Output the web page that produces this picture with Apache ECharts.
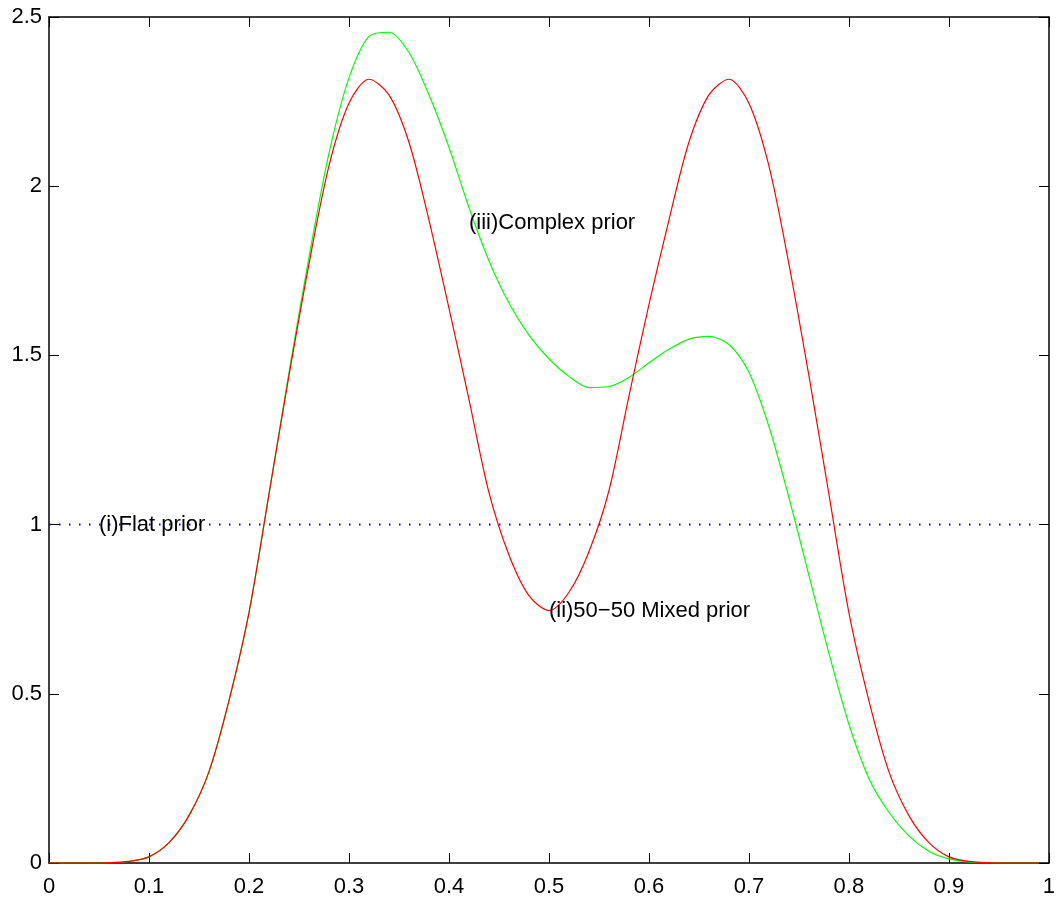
<!DOCTYPE html>
<html>
<head>
<meta charset="utf-8">
<title>Priors</title>
<script src="https://cdn.jsdelivr.net/npm/echarts@6/dist/echarts.min.js"></script>
<style>
    html, body { margin: 0; padding: 0; background: #fff; }
    #chart { width: 1058px; height: 898px; }
</style>
</head>
<body>
<div id="chart"></div>
<script>
// x positions of the curves (theta)
var xs = [0, 0.02, 0.04, 0.06, 0.08, 0.10, 0.12, 0.14, 0.16, 0.18,
    0.20, 0.22, 0.24, 0.26, 0.28, 0.30, 0.32, 0.34, 0.36, 0.38,
    0.40, 0.42, 0.44, 0.46, 0.48, 0.50, 0.52, 0.54, 0.56, 0.58,
    0.60, 0.62, 0.64, 0.66, 0.68, 0.70, 0.72, 0.74, 0.76, 0.78,
    0.80, 0.82, 0.84, 0.86, 0.88, 0.90, 0.92, 0.94, 0.96, 0.98, 0.99];

// (i) flat prior
var flatY = [1, 1, 1, 1, 1, 1, 1, 1, 1, 1,
    1, 1, 1, 1, 1, 1, 1, 1, 1, 1,
    1, 1, 1, 1, 1, 1, 1, 1, 1, 1,
    1, 1, 1, 1, 1, 1, 1, 1, 1, 1,
    1, 1, 1, 1, 1, 1, 1, 1, 1, 1, 1];

// (ii) 50-50 mixed prior
var mixedY = [0, 0, 0, 0.001, 0.005, 0.018, 0.06, 0.14, 0.27, 0.48,
    0.74, 1.09, 1.44, 1.77, 2.06, 2.245, 2.316, 2.27, 2.13, 1.90,
    1.64, 1.37, 1.095, 0.91, 0.79, 0.746, 0.80, 0.92, 1.10, 1.38,
    1.65, 1.90, 2.13, 2.27, 2.316, 2.245, 2.06, 1.77, 1.44, 1.09,
    0.74, 0.48, 0.27, 0.14, 0.06, 0.018, 0.005, 0.001, 0, 0, 0];

// (iii) complex prior
var complexY = [0, 0, 0, 0.001, 0.005, 0.018, 0.06, 0.14, 0.27, 0.48,
    0.74, 1.09, 1.45, 1.79, 2.097, 2.32, 2.443, 2.455, 2.395, 2.27,
    2.115, 1.937, 1.78, 1.655, 1.56, 1.49, 1.438, 1.405, 1.408, 1.435,
    1.478, 1.518, 1.548, 1.556, 1.532, 1.45, 1.29, 1.08, 0.85, 0.62,
    0.41, 0.25, 0.15, 0.08, 0.035, 0.012, 0.003, 0.001, 0, 0, 0];

// curve labels: [x, y, text]
var notes = [
    [0.05, 1.0, '(i)Flat prior'],
    [0.5, 0.745, '(ii)50\u221250 Mixed prior'],
    [0.42, 1.89, '(iii)Complex prior']
];

function pairs(x, y) {
    return x.map(function (v, i) { return [v, y[i]]; });
}

var font = '"Liberation Sans", Arial, Helvetica, sans-serif';

function tick() {
    return {show: true, inside: true, length: 10, lineStyle: {color: '#000', width: 1}};
}
function axLine() {
    return {show: true, onZero: false, lineStyle: {color: '#000', width: 1.5}};
}

var chart = echarts.init(document.getElementById('chart'), null, {renderer: 'canvas'});

var option = {
    animation: false,
    backgroundColor: '#fff',
    grid: {left: 49, right: 4, top: 17, bottom: 32},
    xAxis: [{
        type: 'value', min: 0, max: 1, interval: 0.1, position: 'bottom',
        axisLine: axLine(), axisTick: tick(), splitLine: {show: false},
        axisLabel: {color: '#000', fontSize: 22, fontFamily: font, margin: 13}
    }, {
        type: 'value', min: 0, max: 1, interval: 0.1, position: 'top',
        axisLine: axLine(), axisTick: tick(), splitLine: {show: false},
        axisLabel: {show: false}
    }],
    yAxis: [{
        type: 'value', min: 0, max: 2.5, interval: 0.5, position: 'left',
        axisLine: axLine(), axisTick: tick(), splitLine: {show: false},
        axisLabel: {color: '#000', fontSize: 22, fontFamily: font, margin: 7}
    }, {
        type: 'value', min: 0, max: 2.5, interval: 0.5, position: 'right',
        axisLine: axLine(), axisTick: tick(), splitLine: {show: false},
        axisLabel: {show: false}
    }],
    series: [
        {
            name: 'flat', type: 'line', data: pairs(xs, flatY), symbol: 'none',
            lineStyle: {color: '#0000ff', width: 2, type: [1.5, 8.5]}
        },
        {
            name: 'complex', type: 'line', data: pairs(xs, complexY), symbol: 'none',
            smooth: 0.3, lineStyle: {color: '#00ff00', width: 1.2}
        },
        {
            name: 'mixed', type: 'line', data: pairs(xs, mixedY), symbol: 'none',
            smooth: 0.3, lineStyle: {color: '#ff0000', width: 1.2}
        },
        {
            name: 'notes', type: 'scatter', symbolSize: 0, silent: true, z: 5,
            itemStyle: {opacity: 1},
            data: notes.map(function (n) { return {value: [n[0], n[1]], name: n[2]}; }),
            label: {
                show: true, position: 'right', distance: 0,
                formatter: function (p) { return p.name; },
                color: '#000', opacity: 1, fontSize: 22, fontFamily: font
            }
        }
    ]
};

chart.setOption(option);
</script>
</body>
</html>
